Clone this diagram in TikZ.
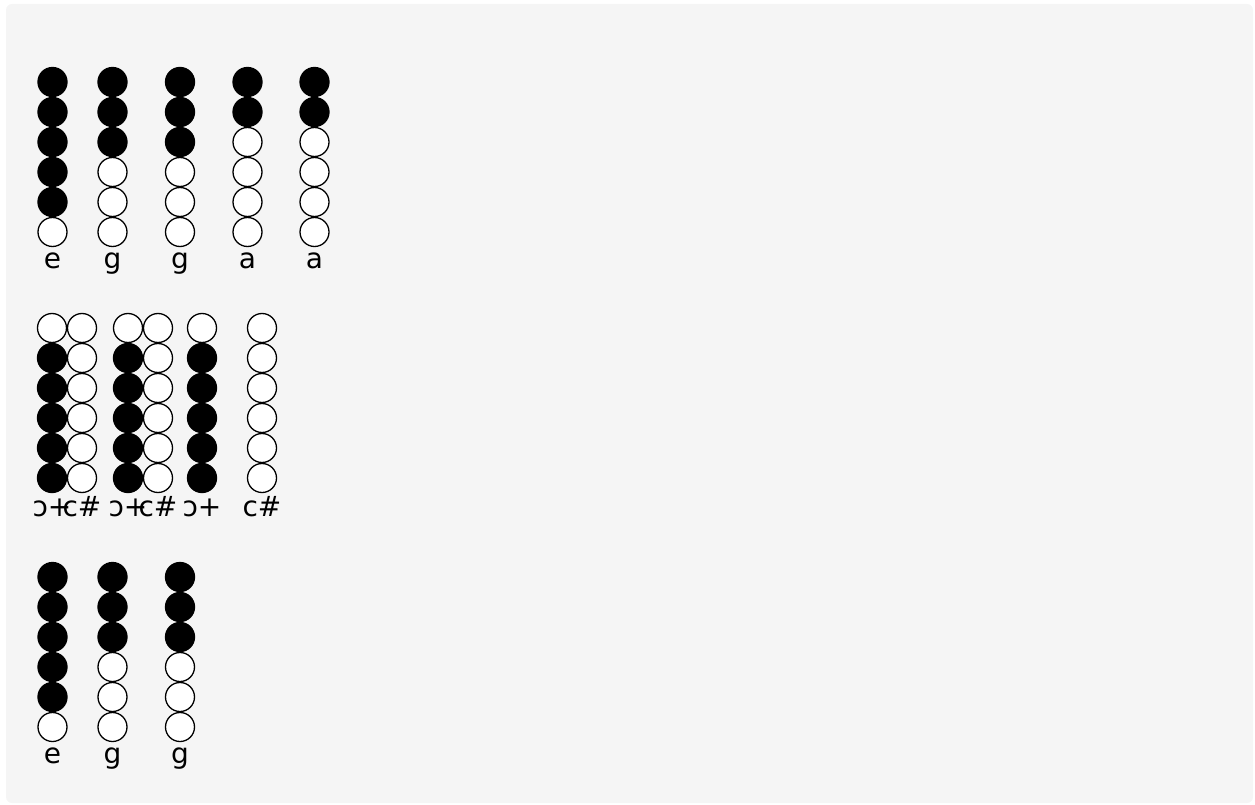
\documentclass[tikz,border=0pt]{standalone}
\usepackage{fontspec}
\setmainfont{DejaVu Sans}
\definecolor{pane}{HTML}{F5F5F5}
\tikzset{loch/.style={circle,draw=black,line width=1.3pt,minimum size=29pt,inner sep=0},
  zu/.style={loch,fill=black},
  auf/.style={loch,fill=white},
  ton/.style={inner sep=0,anchor=base,font=\fontsize{28}{32}\selectfont}}
% one column of holes: name, x, top y, hole styles from top to bottom, label, label base line
\newcommand{\griff}[6]{%
  \foreach \s [count=\i] in {#4}{\node[\s] (#1-\i) at (#2,{#3+30*(\i-1)}) {};}
  \node[ton] (#1-l) at (#2,#6) {#5};}

\begin{document}
\begin{tikzpicture}[x=1pt,y=-1pt]
\useasboundingbox (0,0) rectangle (1255,805);
\fill[pane,rounded corners=6pt] (6,4) rectangle (1253,803);
% first row
\griff{a1}{52.5}{82}{zu,zu,zu,zu,zu,auf}{e}{268}
\griff{a2}{112.5}{82}{zu,zu,zu,auf,auf,auf}{g}{268}
\griff{a3}{180}{82}{zu,zu,zu,auf,auf,auf}{g}{268}
\griff{a4}{247.5}{82}{zu,zu,auf,auf,auf,auf}{a}{268}
\griff{a5}{314.5}{82}{zu,zu,auf,auf,auf,auf}{a}{268}
% second row
\griff{b1}{52}{328}{auf,zu,zu,zu,zu,zu}{ↄ+}{516}
\griff{b2}{82}{328}{auf,auf,auf,auf,auf,auf}{c\#}{516}
\griff{b3}{128}{328}{auf,zu,zu,zu,zu,zu}{ↄ+}{516}
\griff{b4}{158}{328}{auf,auf,auf,auf,auf,auf}{c\#}{516}
\griff{b5}{202}{328}{auf,zu,zu,zu,zu,zu}{ↄ+}{516}
\griff{b6}{262}{328}{auf,auf,auf,auf,auf,auf}{c\#}{516}
% third row
\griff{c1}{52.5}{577}{zu,zu,zu,zu,zu,auf}{e}{763}
\griff{c2}{112.5}{577}{zu,zu,zu,auf,auf,auf}{g}{763}
\griff{c3}{180}{577}{zu,zu,zu,auf,auf,auf}{g}{763}
\end{tikzpicture}
\end{document}
